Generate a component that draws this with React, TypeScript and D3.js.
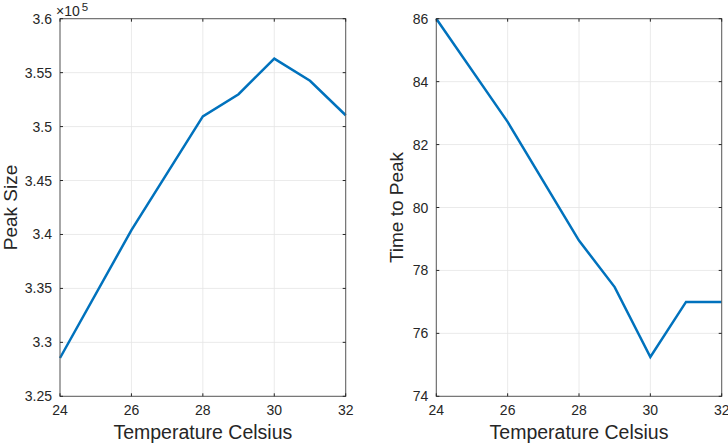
import React from "react";
import * as d3 from "d3";

const temps = [24, 26, 28, 29, 30, 31, 32];
const peakSize = [3.2855, 3.404, 3.5095, 3.53, 3.5630, 3.5425, 3.5105];
const timeToPeak = [86, 82.72, 78.95, 77.47, 75.25, 77.0, 77.0];
const xTicks = [24, 26, 28, 30, 32];
const yTicksLeft = [3.25, 3.3, 3.35, 3.4, 3.45, 3.5, 3.55, 3.6];
const yTicksRight = [74, 76, 78, 80, 82, 84, 86];

const W = 728, H = 444;
const FONT = "'Liberation Sans', Arial, Helvetica, sans-serif";
const AX = "#262626";
const GRID = "#e5e5e5";
const LINE = "#0072BD";

type PanelProps = {
  x0: number; x1: number; y0: number; y1: number;
  ys: number[]; yDomain: [number, number]; yTicks: number[];
  yFmt: (v: number) => string; ylabel: string; ylabelX: number; exponent?: boolean;
};

function Panel({ x0, x1, y0, y1, ys, yDomain, yTicks, yFmt, ylabel, ylabelX, exponent }: PanelProps) {
  const x = d3.scaleLinear().domain([24, 32]).range([x0, x1]);
  const y = d3.scaleLinear().domain(yDomain).range([y1, y0]);
  const line = d3.line<number>().x((_, i) => x(temps[i])).y((d) => y(d));
  const tl = 3;
  return (
    <g>
      <rect x={x0} y={y0} width={x1 - x0} height={y1 - y0} fill="#fff" />
      {xTicks.map((t) => (
        <line key={"gx" + t} x1={x(t)} x2={x(t)} y1={y0} y2={y1} stroke={GRID} strokeWidth={0.8} />
      ))}
      {yTicks.map((t) => (
        <line key={"gy" + t} x1={x0} x2={x1} y1={y(t)} y2={y(t)} stroke={GRID} strokeWidth={0.8} />
      ))}
      <path d={line(ys) || ""} fill="none" stroke={LINE} strokeWidth={2.5} strokeLinejoin="miter" />
      <rect x={x0} y={y0} width={x1 - x0} height={y1 - y0} fill="none" stroke="#5a5a5a" strokeWidth={1} />
      {xTicks.map((t) => (
        <g key={"tx" + t}>
          <line x1={x(t)} x2={x(t)} y1={y1} y2={y1 - tl} stroke={AX} />
          <line x1={x(t)} x2={x(t)} y1={y0} y2={y0 + tl} stroke={AX} />
          <text x={x(t)} y={y1 + 19} textAnchor="middle" fontSize={14} fill={AX} fontFamily={FONT}>{t}</text>
        </g>
      ))}
      {yTicks.map((t) => (
        <g key={"ty" + t}>
          <line x1={x0} x2={x0 + tl} y1={y(t)} y2={y(t)} stroke={AX} />
          <line x1={x1} x2={x1 - tl} y1={y(t)} y2={y(t)} stroke={AX} />
          <text x={x0 - 8} y={y(t) + 5} textAnchor="end" fontSize={14} fill={AX} fontFamily={FONT}>{yFmt(t)}</text>
        </g>
      ))}
      <text x={(x0 + x1) / 2} y={y1 + 43} textAnchor="middle" fontSize={19.5} fill={AX} fontFamily={FONT}>Temperature Celsius</text>
      <text transform={`translate(${ylabelX},${(y0 + y1) / 2}) rotate(-90)`} textAnchor="middle" fontSize={19} fill={AX} fontFamily={FONT}>{ylabel}</text>
      {exponent && (
        <text x={x0 - 4} y={y0 - 3} fontSize={14} fill={AX} fontFamily={FONT}>
          ×10<tspan dx={2} dy={-5} fontSize={11.5}>5</tspan>
        </text>
      )}
    </g>
  );
}

export default function App() {
  return (
    <svg width={W} height={H} style={{ position: "absolute", left: 0, top: 0, background: "#fff" }}>
      <rect width={W} height={H} fill="#fff" />
      <Panel x0={60} x1={345.7} y0={18.7} y1={396.3} ys={peakSize} yDomain={[3.25, 3.6]}
        yTicks={yTicksLeft} yFmt={(v) => d3.format("")(+v.toFixed(2))} ylabel="Peak Size" ylabelX={17} exponent />
      <Panel x0={436.3} x1={721.7} y0={18.7} y1={396.3} ys={timeToPeak} yDomain={[74, 86]}
        yTicks={yTicksRight} yFmt={(v) => String(v)} ylabel="Time to Peak" ylabelX={403} />
    </svg>
  );
}
